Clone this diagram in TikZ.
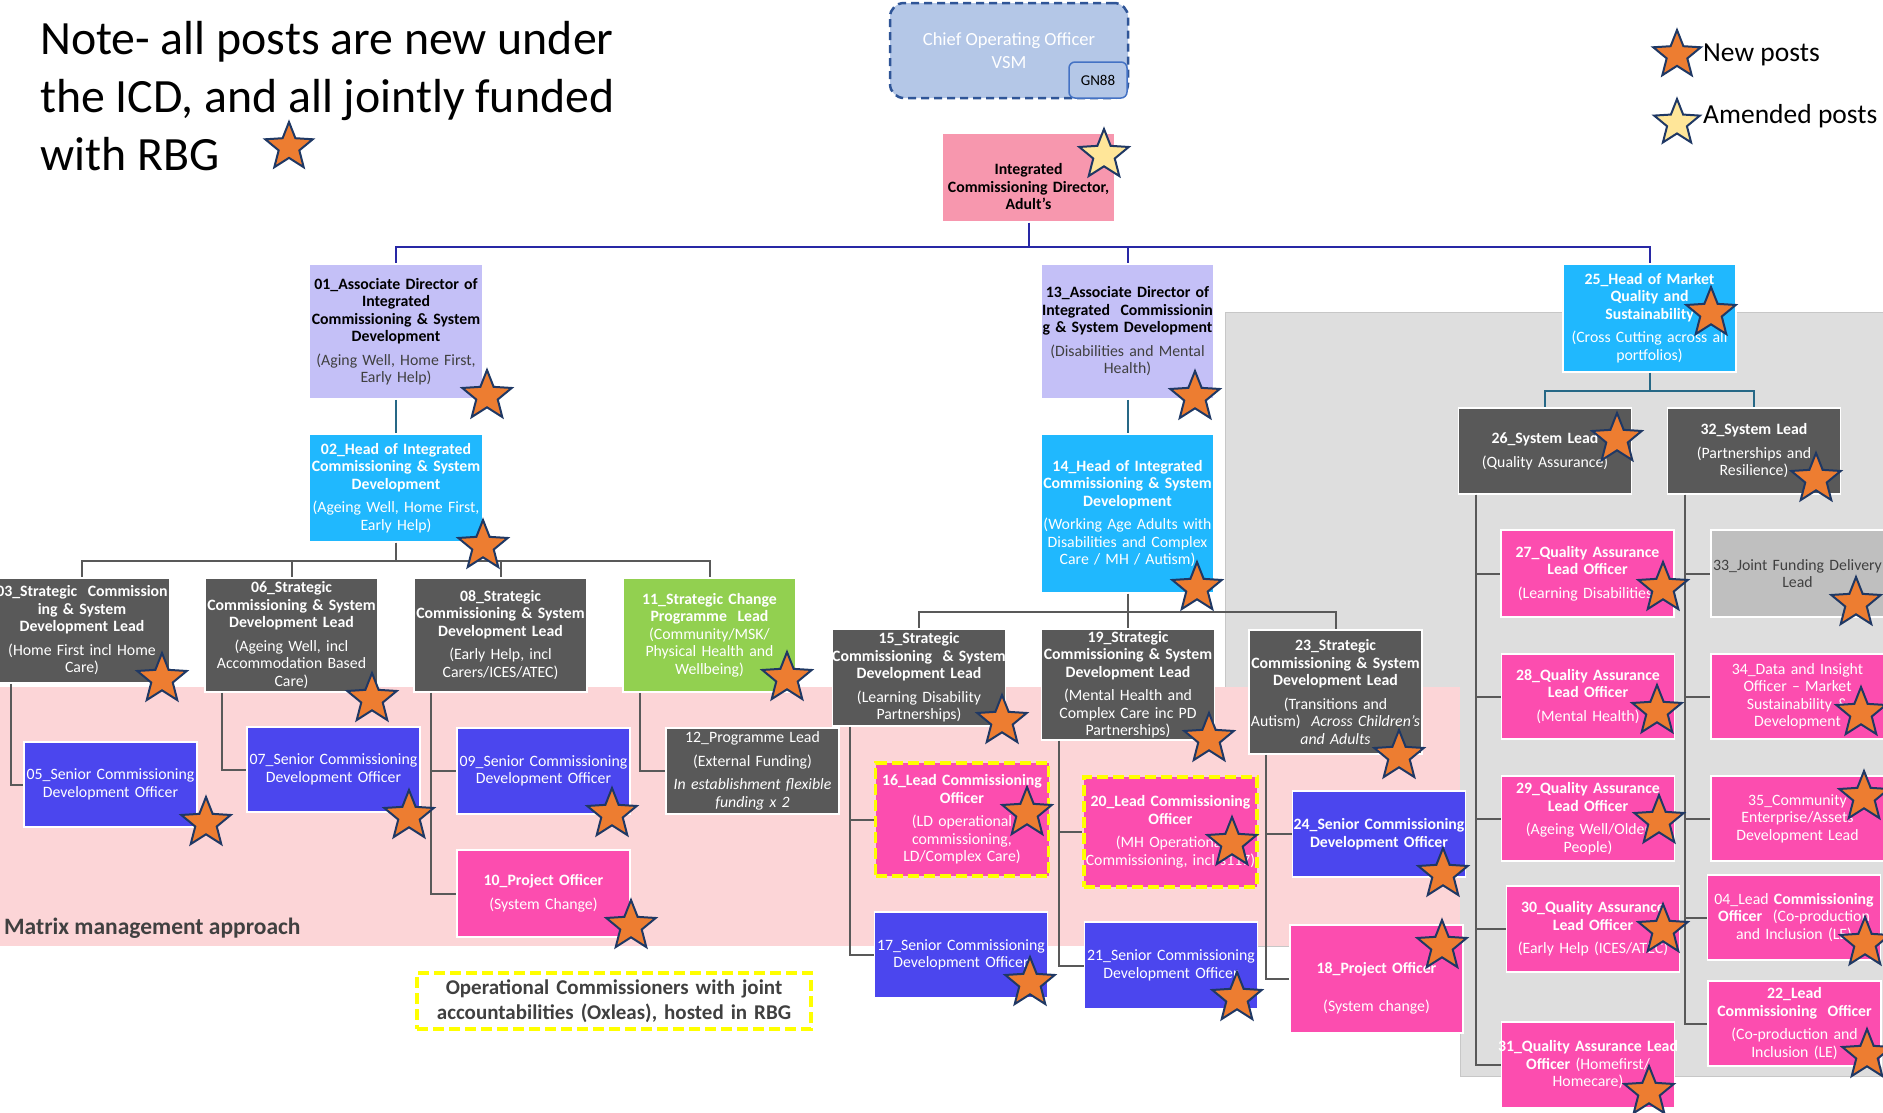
\documentclass[tikz,border=0pt]{standalone}
\usepackage{fontspec}
\setmainfont{Carlito}
\usetikzlibrary{shapes.geometric}

\definecolor{darkpost}{RGB}{89,89,89}
\definecolor{bluepost}{RGB}{75,70,238}
\definecolor{pinkpost}{RGB}{252,77,175}
\definecolor{cyanpost}{RGB}{32,184,254}
\definecolor{lilacpost}{RGB}{196,192,247}
\definecolor{greenpost}{RGB}{146,208,80}
\definecolor{lightpost}{RGB}{191,191,191}
\definecolor{icdpink}{RGB}{247,151,174}
\definecolor{cooblue}{RGB}{180,199,231}
\definecolor{cooedge}{RGB}{47,85,151}
\definecolor{gnedge}{RGB}{68,114,196}
\definecolor{matrixpink}{RGB}{252,213,215}
\definecolor{qagrey}{RGB}{222,222,222}
\definecolor{navyline}{RGB}{40,40,165}
\definecolor{tealline}{RGB}{38,104,134}
\definecolor{greyline}{RGB}{89,89,89}
\definecolor{opsyellow}{RGB}{255,255,0}
\definecolor{starorange}{RGB}{237,125,49}
\definecolor{starpale}{RGB}{255,230,153}
\definecolor{staredge}{RGB}{31,56,100}
\definecolor{subtext}{RGB}{64,64,64}

\newcommand\boxfont{\fontsize{15.8}{17.5}\selectfont}

\tikzset{
  postbox/.style={draw=white, line width=1.5pt, text width=190pt, inner xsep=-8.5pt, inner ysep=0pt,
    minimum height=86pt, align=center, font=\boxfont, text=white},
  darkbox/.style={postbox, fill=darkpost},
  bluebox/.style={postbox, fill=bluepost},
  pinkbox/.style={postbox, fill=pinkpost},
  cyanbox/.style={postbox, fill=cyanpost},
  lilacbox/.style={postbox, fill=lilacpost, text=black},
  greenbox/.style={postbox, fill=greenpost},
  lightbox/.style={postbox, fill=lightpost, text=subtext},
  opsbox/.style={pinkbox, draw=opsyellow, line width=3.5pt, dash pattern=on 11pt off 5pt},
  icdbox/.style={postbox, fill=icdpink, text=black, minimum height=89pt},
  coobox/.style={draw=cooedge, fill=cooblue, line width=2.5pt, dash pattern=on 8pt off 5pt,
    rounded corners=14pt, minimum width=238pt, minimum height=95pt, align=center,
    text=white, font=\fontsize{18.5}{23}\selectfont},
  gnbox/.style={draw=gnedge, fill=cooblue, line width=1.5pt, rounded corners=6pt,
    minimum width=58pt, minimum height=36pt, inner sep=0pt, font=\fontsize{15}{18}\selectfont},
  navyconn/.style={draw=navyline, line width=2pt},
  tealconn/.style={draw=tealline, line width=2pt},
  greyconn/.style={draw=greyline, line width=2pt},
  newstar/.style={star, star points=5, star point ratio=2.3, minimum size=52pt, inner sep=0pt,
    fill=starorange, draw=staredge, line width=2pt},
  amendstar/.style={newstar, fill=starpale},
}

\begin{document}
\begin{tikzpicture}[x=1pt, y=-1pt]
    \useasboundingbox (0,0) rectangle (1883,1112);

    % shaded areas behind the posts
    \fill[qagrey, draw=black!22] (1225,312) -- (1883,312) -- (1883,1076) -- (1460,1076)
        -- (1460,946) -- (1225,946) -- cycle;
    \fill[matrixpink] (0,687) rectangle (1460,946);

    \node[anchor=north west, align=left, inner sep=0pt, font=\fontsize{47.8}{58}\selectfont] (note)
        at (40,21) {Note- all posts are new under\\the ICD, and all jointly funded\\with RBG};
    \node[anchor=base west, inner sep=0pt, font=\fontsize{23.5}{28}\selectfont\bfseries, text=subtext]
        (matrixlabel) at (4,934) {Matrix management approach};

    % top of the structure
    \node[coobox] (coo) at (1009,50.5) {Chief Operating Officer\\VSM};
    \node[gnbox] (gn88) at (1098,80) {GN88};
    \node[icdbox] (icd) at (1028.5,177.5) {\mbox{}\\[12pt]\textbf{Integrated\\Commissioning Director,\\Adult’s}};

    % Ageing Well / Home First / Early Help
    \node[lilacbox, minimum height=135pt] (n01) at (396,331.5) {\textbf{01\_Associate Director of\\Integrated\\Commissioning \& System\\Development}\\[6pt]{\color{subtext}(Aging Well, Home First,\\Early Help)}};
    \node[cyanbox, minimum height=108pt] (n02) at (396,488) {\textbf{02\_Head of Integrated\\Commissioning \& System\\Development}\\[6pt](Ageing Well, Home First,\\Early Help)};
    \node[darkbox, text width=193pt, minimum height=105pt] (n03) at (82,630.5) {\textbf{03\_Strategic~~Commission\\ing \& System\\Development Lead}\\[6pt](Home First incl Home\\Care)};
    \node[darkbox, minimum height=114pt] (n06) at (291.5,635) {\textbf{06\_Strategic\\Commissioning \& System\\Development Lead}\\[6pt](Ageing Well, incl\\Accommodation Based\\Care)};
    \node[darkbox, minimum height=114pt] (n08) at (500.5,635) {\textbf{08\_Strategic\\Commissioning \& System\\Development Lead}\\[6pt](Early Help, incl\\Carers/ICES/ATEC)};
    \node[greenbox, minimum height=114pt] (n11) at (709.5,635) {\textbf{11\_Strategic Change\\Programme~~Lead}\\(Community/MSK/\\Physical Health and\\Wellbeing)};
    \node[bluebox, minimum height=85pt] (n05) at (110.5,784.5) {05\_Senior Commissioning\\Development Officer};
    \node[bluebox, minimum height=85pt] (n07) at (333.5,769.5) {07\_Senior Commissioning\\Development Officer};
    \node[bluebox] (n09) at (543.5,771) {09\_Senior Commissioning\\Development Officer};
    \node[pinkbox, minimum height=87pt] (n10) at (543.5,893.5) {\textbf{10\_Project Officer}\\[6pt](System Change)};
    \node[darkbox] (n12) at (752.5,771) {12\_Programme Lead\\[6pt](External Funding)\\[6pt]\textit{In establishment flexible}\\\textit{funding x 2}};

    % Disabilities and Mental Health
    \node[lilacbox, minimum height=135pt] (n13) at (1127.5,331.5) {\textbf{13\_Associate Director of\\Integrated~~Commissionin\\g \& System Development}\\[6pt]{\color{subtext}(Disabilities and Mental\\Health)}};
    \node[cyanbox, minimum height=159pt] (n14) at (1127.5,513.5) {\textbf{14\_Head of Integrated\\Commissioning \& System\\Development}\\[6pt](Working Age Adults with\\Disabilities and Complex\\Care / MH / Autism)};
    \node[darkbox, minimum height=97pt] (n15) at (919,677.5) {\textbf{15\_Strategic\\Commissioning~~\& System\\Development Lead}\\[6pt](Learning Disability\\Partnerships)};
    \node[darkbox, minimum height=111pt] (n19) at (1128,684.5) {\textbf{19\_Strategic\\Commissioning \& System\\Development Lead}\\[6pt](Mental Health and\\Complex Care inc PD\\Partnerships)};
    \node[darkbox, minimum height=124pt] (n23) at (1335.5,692) {\textbf{23\_Strategic\\Commissioning \& System\\Development Lead}\\[6pt](Transitions and\\Autism)~~\textit{Across Children’s}\\\textit{and Adults}};
    \node[opsbox, minimum height=113pt] (n16) at (962,819.5) {\textbf{16\_Lead Commissioning\\Officer}\\[6pt](LD operational\\commissioning,\\LD/Complex Care)};
    \node[opsbox, minimum height=110pt] (n20) at (1170.5,832) {\textbf{20\_Lead Commissioning\\Officer}\\[6pt](MH Operational\\Commissioning, incl s117)};
    \node[bluebox] (n17) at (961,955) {17\_Senior Commissioning\\Development Officer};
    \node[bluebox, minimum height=87pt] (n21) at (1171,965.5) {21\_Senior Commissioning\\Development Officer};
    \node[bluebox] (n24) at (1379,834) {\textbf{24\_Senior Commissioning\\Development Officer}};
    \node[pinkbox, minimum height=108pt] (n18) at (1376.5,979) {\mbox{}\\[12pt]\textbf{18\_Project Officer}\\[20pt](System change)};

    % Market Quality and Sustainability
    \node[cyanbox, minimum height=108pt] (n25) at (1649.5,318) {\textbf{25\_Head of Market\\Quality and\\Sustainability}\\[6pt](Cross Cutting across all\\portfolios)};
    \node[darkbox] (n26) at (1545,451) {\textbf{26\_System Lead}\\[6pt](Quality Assurance)};
    \node[darkbox] (n32) at (1754,451) {\textbf{32\_System Lead}\\[6pt](Partnerships and\\Resilience)};
    \node[pinkbox, minimum height=87pt] (n27) at (1587.5,573.5) {\textbf{27\_Quality Assurance\\Lead Officer}\\[6pt](Learning Disabilities)};
    \node[pinkbox, minimum height=85pt] (n28) at (1588,696.5) {\textbf{28\_Quality Assurance\\Lead Officer}\\[6pt](Mental Health)};
    \node[pinkbox, minimum height=85pt] (n29) at (1588,818.5) {\textbf{29\_Quality Assurance\\Lead Officer}\\[6pt](Ageing Well/Older\\People)};
    \node[pinkbox] (n30) at (1593,929) {\textbf{30\_Quality Assurance\\Lead Officer}\\[6pt](Early Help (ICES/ATEC)};
    \node[pinkbox] (n31) at (1588,1065) {\textbf{31\_Quality Assurance Lead}\\\textbf{Officer} (Homefirst/\\Homecare)};
    \node[lightbox, minimum height=87pt] (n33) at (1797.5,573.5) {33\_Joint Funding Delivery\\Lead};
    \node[pinkbox, minimum height=85pt] (n34) at (1797.5,696.5) {34\_Data and Insight\\Officer – Market\\Sustainability \&\\Development};
    \node[pinkbox, minimum height=85pt] (n35) at (1797.5,818.5) {35\_Community\\Enterprise/Assets\\Development Lead};
    \node[pinkbox, minimum height=85pt] (n04) at (1794,917.5) {04\_Lead \textbf{Commissioning}\\\textbf{Officer}~~(Co-production\\and Inclusion (LE)};
    \node[pinkbox, minimum height=85pt] (n22) at (1794.5,1023.5) {\textbf{22\_Lead\\Commissioning~~Officer}\\[6pt](Co-production and\\Inclusion (LE)};

    \node[draw=opsyellow, line width=3.5pt, dash pattern=on 11pt off 5pt, text width=394pt,
        minimum height=56pt, inner sep=0pt, align=center, text=subtext,
        font=\fontsize{21}{25}\selectfont\bfseries] (opsnote) at (614,1001)
        {Operational Commissioners with joint\\accountabilities (Oxleas), hosted in RBG};

    % reporting lines
    \foreach \c in {n01,n13,n25}
        \draw[navyconn] (icd.south) -- ++(0,24) -| (\c.north);
    \draw[tealconn] (n01) -- (n02);
    \draw[tealconn] (n13) -- (n14);
    \foreach \c in {n26,n32}
        \draw[tealconn] (n25.south) -- ++(0,18) -| (\c.north);
    \foreach \c in {n03,n06,n08,n11}
        \draw[greyconn] (n02.south) -- ++(0,18) -| (\c.north);
    \foreach \c in {n15,n19,n23}
        \draw[greyconn] (n14.south) -- ++(0,18) -| (\c.north);
    \foreach \p/\c in {n03/n05,n06/n07,n08/n09,n08/n10,n11/n12,n15/n16,n15/n17,n19/n20,n19/n21,
        n23/n24,n23/n18,n26/n27,n26/n28,n26/n29,n26/n30,n26/n31,n32/n33,n32/n34,n32/n35,n32/n04,n32/n22}
        \draw[greyconn] (\p.south west) ++(18,0) |- (\c.west);

    % stars marking new posts
    \foreach \sx/\sy [count=\i] in {487/396,483/546,162/679,372/699,787/678,206/823,409/816,612/814,
        631/926,1195/397,1197/588,1002/721,1209/739,1399/756,1027/813,1232/843,1443/874,1030/983,
        1237/998,1442/946,1711/313,1617/439,1816/479,1663/588,1856/603,1657/711,1861/713,1659/821,
        1864/797,1663/930,1865/943,1649/1092,1867/1055}
        \node[newstar] (new\i) at (\sx,\sy) {};
    \node[amendstar] (icdstar) at (1104,155) {};
    \node[newstar, minimum size=50pt] (notestar) at (289,147) {};

    % key
    \node[newstar, minimum size=50pt] (keynew) at (1677,55) {};
    \node[anchor=base west, inner sep=0pt, font=\fontsize{27.5}{32}\selectfont] (keynewtext) at (1703,61) {New posts};
    \node[amendstar, minimum size=48pt] (keyamend) at (1677,123) {};
    \node[anchor=base west, inner sep=0pt, font=\fontsize{27.5}{32}\selectfont] (keyamendtext) at (1703,123) {Amended posts};
\end{tikzpicture}
\end{document}
